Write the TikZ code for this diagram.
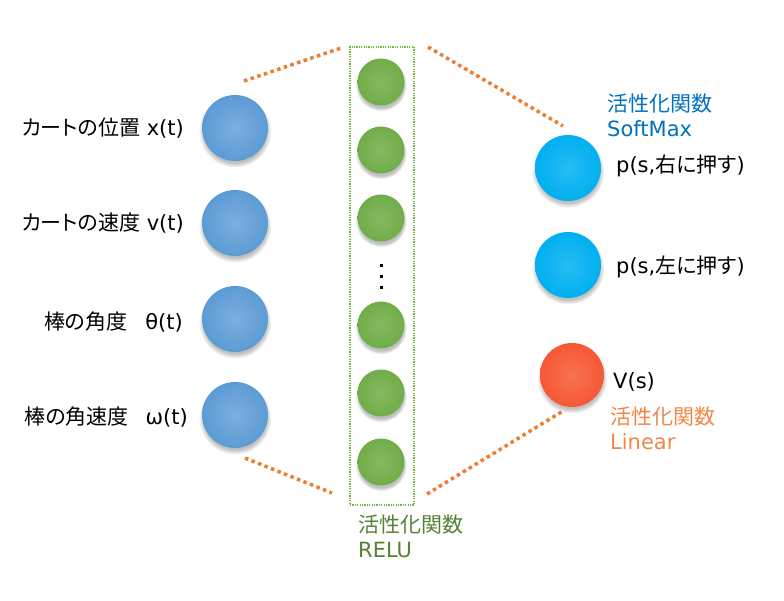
\documentclass[tikz,border=0pt]{standalone}
\usepackage{fontspec}
\setmainfont{DejaVu Sans}
\newfontfamily\jp[RawFeature=+palt]{Noto Sans CJK JP}
\usepackage{xcolor}
\usepackage{tikz}
\usetikzlibrary{shadows}
\definecolor{inblue}{RGB}{91, 155, 213}
\definecolor{hidgreen}{RGB}{112, 173, 71}
\definecolor{outcyan}{RGB}{0, 176, 240}
\definecolor{outred}{RGB}{246, 88, 52}
\definecolor{lineorange}{RGB}{237, 125, 49}
\definecolor{txtblue}{RGB}{0, 112, 192}
\definecolor{txtgreen}{RGB}{84, 130, 53}
\definecolor{txtorange}{RGB}{240, 135, 70}
\tikzset{
	neuron/.style = {circle, inner sep = 0pt, circular drop shadow = {shadow xshift = 0pt, shadow yshift = -3pt, opacity = 0.25, fill = black}},
	incirc/.style = {neuron, minimum size = 66pt, inner color = inblue!80!white, outer color = inblue},
	hidcirc/.style = {neuron, minimum size = 47pt, inner color = hidgreen!85!white, outer color = hidgreen},
	outcirc/.style = {neuron, minimum size = 66pt, inner color = outcyan!85!white, outer color = outcyan},
	valcirc/.style = {neuron, minimum size = 64pt, inner color = outred!85!white, outer color = outred},
	hidbox/.style = {draw = hidgreen!90!lime, line width = 1.2pt, dash pattern = on 1.2pt off 1.2pt, minimum width = 64pt, minimum height = 458pt, inner sep = 0pt},
	vdot/.style = {fill = black, minimum size = 3pt, inner sep = 0pt},
	lab/.style = {font = \fontsize{21}{25}\selectfont, inner sep = 0pt},
	zoomline/.style = {draw = lineorange, line width = 3.5pt, dash pattern = on 3.5pt off 3.5pt}
}
\begin{document}
\begin{tikzpicture}[x = 1pt, y = -1pt]
			\useasboundingbox (0,0) rectangle (784,601);
			\node (hid) at (382,276) [hidbox] {};
			\node (in1) at (235,128) [incirc] {};
			\node (in2) at (235,223) [incirc] {};
			\node (in3) at (235,319) [incirc] {};
			\node (in4) at (235,415) [incirc] {};
			\node (h1) at (381,82) [hidcirc] {};
			\node (h2) at (381,150) [hidcirc] {};
			\node (h3) at (381,218) [hidcirc] {};
			\node (h4) at (381,325) [hidcirc] {};
			\node (h5) at (381,393) [hidcirc] {};
			\node (h6) at (381,462) [hidcirc] {};
			\node (d1) at (381,266) [vdot] {};
			\node (d2) at (381,277) [vdot] {};
			\node (d3) at (381,288) [vdot] {};
			\node (out1) at (568,168) [outcirc] {};
			\node (out2) at (568,265) [outcirc] {};
			\node (val) at (572,375) [valcirc] {};
			\node (l1) at (184,128) [lab, anchor = east] {{\jp カートの位置} x(t)};
			\node (l2) at (184,223) [lab, anchor = east] {{\jp カートの速度} v(t)};
			\node (l3) at (183,322) [lab, anchor = east] {{\jp 棒の角度}\hspace{18pt}θ(t)};
			\node (l4) at (188,417) [lab, anchor = east] {{\jp 棒の角速度}\hspace{17pt}ω(t)};
			\node (p1) at (616,166) [lab, anchor = west] {p(s,{\jp 右に押す})};
			\node (p2) at (616,267) [lab, anchor = west] {p(s,{\jp 左に押す})};
			\node (v) at (613,382) [lab, anchor = west] {V(s)};
			\node (act1) at (607,115) [lab, anchor = west, align = left, text = txtblue] {{\jp 活性化関数}\\SoftMax};
			\node (act2) at (358,536) [lab, anchor = west, align = left, text = txtgreen] {{\jp 活性化関数}\\RELU};
			\node (act3) at (610,428) [lab, anchor = west, align = left, text = txtorange] {{\jp 活性化関数}\\Linear};
			\coordinate (tl1) at (244,81);
			\coordinate (tl2) at (341,48);
			\coordinate (tr1) at (428,47);
			\coordinate (tr2) at (563,126);
			\coordinate (bl1) at (245,458);
			\coordinate (bl2) at (332,493);
			\coordinate (br1) at (427,494);
			\coordinate (br2) at (563,411);
			\draw[zoomline] (tl1) -- (tl2);
			\draw[zoomline] (tr1) -- (tr2);
			\draw[zoomline] (bl1) -- (bl2);
			\draw[zoomline] (br1) -- (br2);
\end{tikzpicture}
\end{document}
